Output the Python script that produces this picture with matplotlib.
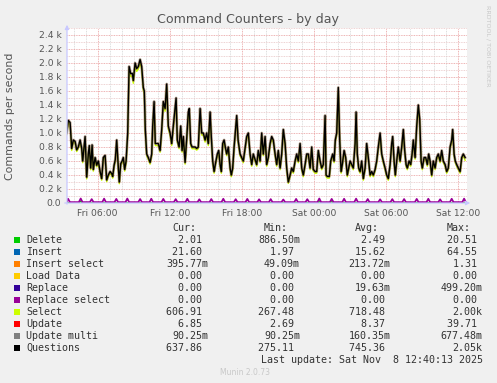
import matplotlib
matplotlib.use("Agg")
import matplotlib.pyplot as plt
from matplotlib.patches import Rectangle
from matplotlib.ticker import MultipleLocator, FuncFormatter
import numpy as np

# temps en minutes depuis vendredi 00:00
t_min = [205, 213, 222, 230, 238, 247, 255, 263, 272, 280, 285, 297, 305, 313, 318, 325, 332, 338, 347, 355,
         363, 372, 380, 388, 397, 405, 413, 422, 430, 435, 442, 448, 455, 462, 468, 475, 482, 488, 495, 502,
         510, 517, 525, 533, 538, 547, 555, 563, 572, 580, 588, 593, 598, 605, 613, 622, 630, 635, 642, 648,
         655, 663, 672, 680, 688, 697, 705, 713, 722, 730, 738, 747, 752, 758, 767, 775, 782, 788, 797, 805,
         813, 818, 825, 832, 838, 847, 855, 863, 872, 880, 888, 897, 905, 913, 922, 928, 935, 942, 948, 958,
         965, 972, 978, 985, 992, 998, 1005, 1013, 1022, 1028, 1035, 1042, 1048, 1055, 1062, 1072, 1088, 1105, 1113, 1122,
         1130, 1138, 1147, 1155, 1163, 1172, 1180, 1188, 1197, 1205, 1213, 1222, 1230, 1238, 1247, 1255, 1263, 1272, 1280, 1288,
         1297, 1305, 1313, 1322, 1330, 1338, 1347, 1355, 1363, 1372, 1380, 1388, 1397, 1405, 1413, 1422, 1430, 1438, 1447, 1455,
         1463, 1472, 1480, 1488, 1497, 1502, 1508, 1518, 1525, 1535, 1542, 1548, 1555, 1563, 1570, 1577, 1583, 1592, 1600, 1608,
         1615, 1622, 1630, 1638, 1647, 1652, 1658, 1665, 1672, 1680, 1688, 1697, 1705, 1713, 1722, 1730, 1738, 1747, 1755, 1763,
         1772, 1780, 1788, 1797, 1805, 1813, 1822, 1830, 1835, 1842, 1848, 1855, 1863, 1872, 1880, 1888, 1895, 1902, 1908, 1917,
         1925, 1932, 1938, 1947, 1955, 1963, 1970, 1977, 1983, 1992, 2000, 2008, 2015, 2022, 2030, 2038, 2047, 2055, 2063, 2072,
         2080, 2088, 2097, 2105, 2113, 2122, 2130, 2135, 2142, 2148, 2155, 2163, 2172, 2180, 2188, 2197]

questions = [1000, 1180, 1150, 780, 900, 880, 760, 800, 900, 780, 600, 950, 370, 700, 820, 500, 830, 480, 650, 540,
             600, 450, 350, 650, 680, 330, 400, 450, 420, 380, 540, 620, 900, 560, 300, 560, 600, 650, 480, 600,
             1000, 1950, 1850, 1850, 1750, 2000, 1920, 1950, 2050, 1950, 1650, 1600, 1050, 700, 650, 580, 700, 1100, 1450, 850,
             850, 850, 750, 1050, 1450, 1350, 1700, 1100, 1000, 850, 1100, 1350, 1500, 900, 800, 1100, 750, 950, 580, 920,
             1300, 1350, 850, 800, 800, 800, 780, 800, 1350, 1000, 1000, 900, 1000, 850, 1300, 950, 600, 450, 550, 700,
             750, 550, 450, 850, 900, 800, 700, 800, 500, 400, 500, 800, 1000, 1250, 900, 700, 600, 950, 1000, 700,
             550, 700, 620, 550, 750, 600, 1000, 700, 950, 550, 650, 850, 950, 900, 700, 550, 750, 500, 700, 1050,
             850, 500, 300, 400, 500, 450, 600, 700, 600, 850, 500, 400, 550, 700, 700, 500, 800, 480, 450, 450,
             750, 600, 500, 550, 1250, 400, 380, 380, 600, 700, 600, 900, 1000, 1650, 900, 450, 550, 750, 650, 400,
             500, 600, 550, 500, 850, 1300, 700, 500, 450, 600, 350, 500, 850, 650, 400, 450, 400, 480, 600, 800,
             1000, 700, 600, 500, 400, 350, 550, 850, 950, 600, 400, 600, 800, 600, 800, 1050, 750, 550, 500, 600,
             550, 700, 900, 650, 1100, 1400, 1200, 600, 500, 650, 650, 550, 700, 600, 400, 600, 500, 650, 700, 600,
             750, 600, 550, 450, 500, 800, 900, 1050, 700, 600, 550, 500, 450, 650, 700, 650]

select = [975, 1150, 1120, 750, 875, 855, 735, 775, 875, 755, 575, 925, 345, 675, 795, 475, 805, 455, 625, 515,
          575, 425, 325, 625, 655, 305, 375, 425, 395, 355, 515, 595, 870, 535, 275, 535, 575, 625, 455, 575,
          970, 1910, 1810, 1810, 1710, 1960, 1880, 1910, 2000, 1910, 1610, 1560, 1010, 675, 625, 555, 675, 1060, 1410, 820,
          820, 820, 725, 1010, 1410, 1310, 1660, 1060, 970, 820, 1060, 1310, 1460, 870, 775, 1060, 725, 920, 555, 890,
          1260, 1310, 820, 775, 775, 775, 755, 775, 1310, 970, 970, 870, 970, 820, 1260, 920, 575, 425, 525, 675,
          725, 525, 425, 820, 870, 775, 675, 775, 475, 375, 475, 775, 970, 1210, 870, 675, 575, 920, 970, 675,
          525, 675, 595, 525, 725, 575, 970, 675, 920, 525, 625, 820, 920, 870, 675, 525, 725, 475, 675, 1010,
          820, 475, 280, 375, 475, 425, 575, 675, 575, 820, 475, 375, 525, 675, 675, 475, 775, 455, 425, 425,
          725, 575, 475, 525, 1210, 375, 355, 355, 575, 675, 575, 870, 970, 1600, 870, 425, 525, 725, 625, 375,
          475, 575, 525, 475, 820, 1260, 675, 475, 425, 575, 325, 475, 820, 625, 375, 425, 375, 455, 575, 775,
          970, 675, 575, 475, 375, 325, 525, 820, 920, 575, 375, 575, 775, 575, 775, 1010, 725, 525, 475, 575,
          525, 675, 870, 625, 1060, 1360, 1160, 575, 475, 625, 625, 525, 675, 575, 375, 575, 475, 625, 675, 575,
          725, 575, 525, 425, 475, 775, 870, 1010, 675, 575, 525, 475, 425, 625, 675, 610]

# pics horaires de la courbe du bas (Insert)
insert_peak_t = [212, 275, 330, 392, 453, 508, 572, 628, 688, 750, 808, 868, 928, 988, 1050, 1108, 1167,
                 1225, 1288, 1352, 1408, 1468, 1530, 1592, 1652, 1710, 1772, 1833, 1892, 1955, 2013, 2072, 2130, 2192]
insert_peak_v = [60, 64, 55, 62, 58, 63, 56, 60, 58, 55, 60, 52, 56, 60, 54, 58, 52,
                 55, 50, 58, 54, 64, 58, 60, 62, 56, 52, 55, 56, 58, 60, 52, 60, 62]
insert_base = 12

delete_t = [206, 265, 275, 285, 1458, 1468, 1478, 1520, 1530, 1540, 2206]
delete_v = [2, 2, 20, 2, 2, 18, 2, 2, 18, 2, 2]

names = ["Delete", "Insert", "Insert select", "Load Data", "Replace", "Replace select",
         "Select", "Update", "Update multi", "Questions"]
colors = ['#00CC00', '#0066B3', '#FF8000', '#FFCC00', '#330099', '#990099',
          '#CCFF00', '#FF0000', '#808080', '#000000']
cur = ["2.01", "21.60", "395.77m", "0.00", "0.00", "0.00", "606.91", "6.85", "90.25m", "637.86"]
mins = ["886.50m", "1.97", "49.09m", "0.00", "0.00", "0.00", "267.48", "2.69", "90.25m", "275.11"]
avgs = ["2.49", "15.62", "213.72m", "0.00", "19.63m", "0.00", "718.48", "8.37", "160.35m", "745.36"]
maxs = ["20.51", "64.55", "1.31", "0.00", "499.20m", "0.00", "2.00k", "39.71", "677.48m", "2.05k"]

x_ticks = [360, 720, 1080, 1440, 1800, 2160]
x_labels = ["Fri 06:00", "Fri 12:00", "Fri 18:00", "Sat 00:00", "Sat 06:00", "Sat 12:00"]

W, H = 497, 383
BG = '#F0F0F0'
TXT = '#555555'


def fx(x):
    return x / W


def fy(y):
    return 1 - y / H


fig = plt.figure(figsize=(W / 100, H / 100), dpi=100, facecolor=BG)
ax = fig.add_axes([fx(67), fy(203), 400 / W, 175 / H])
ax.set_facecolor('white')
ax.set_xlim(206.5, 2206.5)
ax.set_ylim(0, 2500)

# grille
ax.xaxis.set_major_locator(MultipleLocator(360))
ax.xaxis.set_minor_locator(MultipleLocator(60))
ax.yaxis.set_major_locator(MultipleLocator(200))
ax.yaxis.set_minor_locator(MultipleLocator(100))
ax.grid(which='minor', color='#d4d4d4', linestyle=(0, (1, 1)), linewidth=0.6)
ax.grid(which='minor', axis='y', color='#e8c4c4', linestyle=(0, (1, 1)), linewidth=0.6)
ax.grid(which='major', color='#e89a9a', linestyle=(0, (1, 1)), linewidth=0.6)
ax.set_axisbelow(True)

ax.set_xticks(x_ticks)
ax.set_xticklabels(x_labels)
ax.yaxis.set_major_formatter(FuncFormatter(lambda v, p: "%.1f k" % (v / 1000) if v > 0 else "0.0"))
ax.tick_params(which='both', length=0, labelsize=6.6, labelcolor=TXT, pad=4)
for s in ax.spines.values():
    s.set_visible(False)

# courbes
ins_t, ins_v = [206], [insert_base + 30]
for p, v in zip(insert_peak_t, insert_peak_v):
    ins_t += [p - 9, p, p + 9]
    ins_v += [insert_base, v, insert_base]
ins_t.append(2206)
ins_v.append(insert_base)

ax.plot(delete_t, delete_v, color='#00CC00', lw=1)
ax.plot(ins_t, ins_v, color='#990099', lw=1.3)
ax.plot(t_min, select, color='#CCFF00', lw=1.0)
ax.plot(t_min, questions, color='#7a5530', lw=2.0, alpha=0.55)
ax.plot(t_min, questions, color='#000000', lw=1.0)

# axes avec flèches
ax.annotate('', xy=(fx(473), fy(203)), xytext=(fx(62), fy(203)), xycoords='figure fraction',
            arrowprops=dict(arrowstyle='-|>', color='#c8c8ff', lw=0.9, mutation_scale=6))
ax.annotate('', xy=(fx(67), fy(22)), xytext=(fx(67), fy(207)), xycoords='figure fraction',
            arrowprops=dict(arrowstyle='-|>', color='#c8c8ff', lw=0.9, mutation_scale=6))

fig.text(fx(248), fy(19), "Command Counters - by day", ha='center', va='center', fontsize=9.1, color=TXT)
fig.text(fx(10), fy(116), "Commands per second", ha='center', va='center', rotation=90, fontsize=7.9, color=TXT)
fig.text(fx(488), fy(5), "RRDTOOL / TOBI OETIKER", ha='center', va='top', rotation=270, fontsize=4.6, color='#c8c8c8')

# légende
mono = dict(family='DejaVu Sans Mono', fontsize=7.2, color='#333333')
for hx, h in zip([172, 264, 355, 447], ["Cur:", "Min:", "Avg:", "Max:"]):
    fig.text(fx(hx), fy(227.7), h, ha='left', va='center', **mono)

right_edges = [208.3, 300, 390.7, 482.7]
for i, name in enumerate(names):
    y = 239.7 + 12 * i
    fig.patches.append(Rectangle((fx(13.7), fy(y + 3)), 6 / W, 6 / H, transform=fig.transFigure,
                                 facecolor=colors[i], edgecolor='none'))
    fig.text(fx(26), fy(y), name, ha='left', va='center', **mono)
    for col, xr in zip([cur, mins, avgs, maxs], right_edges):
        s = col[i]
        if s[-1].isdigit():
            s = s + " "
        fig.text(fx(xr), fy(y), s, ha='right', va='center', **mono)

fig.text(fx(482.7), fy(359.7), "Last update: Sat Nov  8 12:40:13 2025", ha='right', va='center', **mono)
fig.text(fx(245), fy(372.3), "Munin 2.0.73", ha='center', va='center', fontsize=5.5, color='#c8c8c8')

fig.savefig("out.png", dpi=100, facecolor=BG)
